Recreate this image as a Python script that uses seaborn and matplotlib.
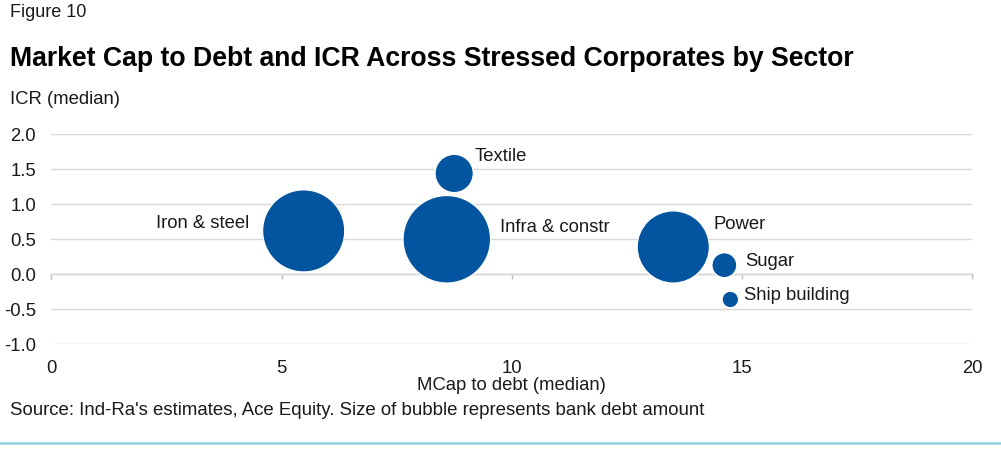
import matplotlib
matplotlib.use("Agg")
import matplotlib.pyplot as plt
from matplotlib.lines import Line2D
import seaborn as sns
import pandas as pd

# Sector medians: market cap to debt (x), interest coverage ratio (y), bank debt (bubble size)
sectors = ["Iron & steel", "Infra & constr", "Textile", "Power", "Sugar", "Ship building"]
mcap_to_debt = [5.48, 8.59, 8.75, 13.51, 14.62, 14.75]
icr = [0.62, 0.50, 1.44, 0.39, 0.13, -0.36]
bank_debt = [88, 100, 19, 68, 8, 3.5]

x_ticks = [0, 5, 10, 15, 20]
y_ticks = [-1.0, -0.5, 0.0, 0.5, 1.0, 1.5, 2.0]

# label placement relative to each bubble (points) and alignment
label_offsets = {
    "Iron & steel": (-39, 5, "right"),
    "Infra & constr": (38, 8.5, "left"),
    "Textile": (15, 12, "left"),
    "Power": (29, 16, "left"),
    "Sugar": (15, 3, "left"),
    "Ship building": (10, 3, "left"),
}

df = pd.DataFrame({"sector": sectors, "mcap_to_debt": mcap_to_debt,
                   "icr": icr, "bank_debt": bank_debt})

sns.set_theme(style="white")
plt.rcParams["font.family"] = ["Liberation Sans", "DejaVu Sans"]

blue = "#03559F"
grid_col = "#D9D9D9"
text_col = "#1A1A1A"
fs = 13.3

fig = plt.figure(figsize=(10.01, 4.5), dpi=100)
ax = fig.add_axes([0.0514, 0.2349, 0.9196, 0.4667])

sns.scatterplot(data=df, x="mcap_to_debt", y="icr", size="bank_debt",
                sizes=(0, 3960), size_norm=(0, 100), color=blue,
                edgecolor="white", linewidth=0.8, alpha=1.0,
                legend=False, ax=ax, zorder=3)

ax.set_xlim(0, 20)
ax.set_ylim(-1.0, 2.0)
ax.set_xticks(x_ticks)
ax.set_yticks(y_ticks)
ax.set_xticklabels([f"{t:g}" for t in x_ticks])
ax.set_yticklabels([f"{t:.1f}" for t in y_ticks])
ax.tick_params(axis="both", length=0, labelsize=fs, colors=text_col)
ax.tick_params(axis="x", pad=11)
ax.tick_params(axis="y", pad=11)

ax.grid(axis="y", color=grid_col, linewidth=1.0)
ax.grid(axis="x", visible=False)
ax.set_axisbelow(True)
for s in ax.spines.values():
    s.set_visible(False)

# horizontal axis line sits at ICR = 0 with outward tick marks
zero_frac = (0 - (-1.0)) / (2.0 - (-1.0))
sec = ax.secondary_xaxis(zero_frac)
sec.xaxis.set_ticks_position("bottom")
sec.set_xticks(x_ticks, labels=[""] * len(x_ticks))
sec.tick_params(axis="x", direction="out", length=3.5, width=1.0,
                color="#BFBFBF", labelbottom=False, labeltop=False)
sec.spines["bottom"].set_color("#BFBFBF")
sec.spines["bottom"].set_linewidth(1.0)

ax.set_xlabel("MCap to debt (median)", fontsize=fs, color=text_col, labelpad=0)
ax.set_ylabel("")

for name, xv, yv in zip(sectors, mcap_to_debt, icr):
    dx, dy, ha = label_offsets[name]
    ax.annotate(name, xy=(xv, yv), xytext=(dx, dy), textcoords="offset points",
                ha=ha, va="center", fontsize=fs, color=text_col, zorder=4)

fig.text(0.01, 0.973, "Figure 10", fontsize=13, color=text_col, va="center")
fig.text(0.01, 0.869, "Market Cap to Debt and ICR Across Stressed Corporates by Sector",
         fontsize=19.2, fontweight="bold", color="#000000", va="center")
fig.text(0.01, 0.778, "ICR (median)", fontsize=fs, color=text_col, va="center")
fig.text(0.01, 0.088, "Source: Ind-Ra's estimates, Ace Equity. Size of bubble represents bank debt amount",
         fontsize=13.4, color=text_col, va="center")
fig.add_artist(Line2D([0, 1], [0.016, 0.016], transform=fig.transFigure,
                      color="#8FCFE0", linewidth=1.8))

fig.savefig("out.png", dpi=100)
